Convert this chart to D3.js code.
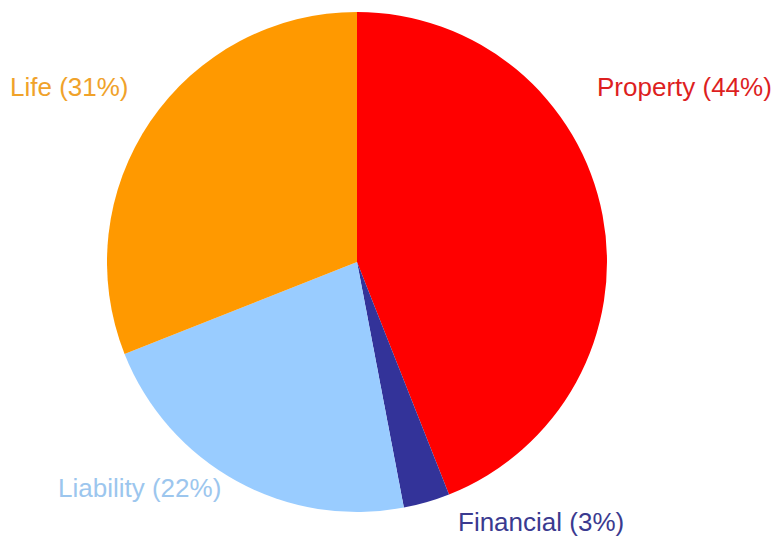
<!DOCTYPE html>
<html>
<head>
<meta charset="utf-8">
<script src="https://cdn.jsdelivr.net/npm/d3@7"></script>
<style>
  body { margin: 0; background: #fff; }
  text { font-family: Arial, "Liberation Sans", sans-serif; }
</style>
</head>
<body>
<div id="chart"></div>
<script>
// Slice data, clockwise from 12 o'clock
var categories = ["Property", "Financial", "Liability", "Life"];
var shares = [44, 3, 22, 31];
var sliceColors = ["#ff0000", "#333399", "#99ccff", "#ff9900"];
var labelColors = ["#dd1f1f", "#3a3a90", "#9cc6ee", "#f0a22a"];

var width = 772, height = 540;
var cx = 357, cy = 262, radius = 250;

// Label placement relative to the pie center (x, baseline y)
var labelPos = {
    Property:  { dx: 240, dy: -166 },
    Financial: { dx: 101, dy: 269 },
    Liability: { dx: -299, dy: 235 },
    Life:      { dx: -347, dy: -166 }
};

var svg = d3.select("#chart")
    .append("svg")
    .attr("width", width)
    .attr("height", height);

var g = svg.append("g")
    .attr("transform", "translate(" + cx + "," + cy + ")");

var pie = d3.pie().sort(null).value(function(d) { return d.value; });
var arc = d3.arc().innerRadius(0).outerRadius(radius);

var data = categories.map(function(c, i) {
    return { name: c, value: shares[i], color: sliceColors[i], label: labelColors[i] };
});

g.selectAll("path.slice")
    .data(pie(data))
    .enter().append("path")
    .attr("class", "slice")
    .attr("d", arc)
    .attr("fill", function(d) { return d.data.color; });

g.selectAll("text.label")
    .data(data)
    .enter().append("text")
    .attr("class", "label")
    .attr("x", function(d) { return labelPos[d.name].dx; })
    .attr("y", function(d) { return labelPos[d.name].dy; })
    .attr("fill", function(d) { return d.label; })
    .style("font-size", "26px")
    .text(function(d) { return d.name + " (" + d.value + "%)"; });
</script>
</body>
</html>
